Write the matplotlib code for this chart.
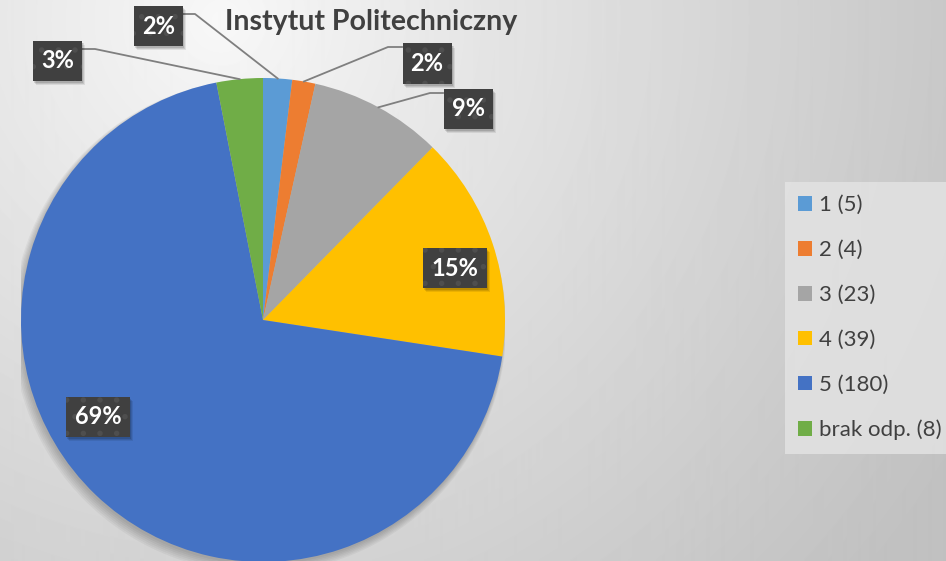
import numpy as np
import matplotlib
matplotlib.use("Agg")
import matplotlib.pyplot as plt
from matplotlib.patches import Circle, Rectangle

plt.rcParams['font.family'] = ['Lato', 'DejaVu Sans']
plt.rcParams['hatch.linewidth'] = 1.5

# Data
categories = ['1', '2', '3', '4', '5', 'brak odp.']
counts = [5, 4, 23, 39, 180, 8]
colors = ['#5B9BD5', '#ED7D31', '#A5A5A5', '#FFC000', '#4472C4', '#70AD47']
title = 'Instytut Politechniczny'

# Figure size in pixels
W, H = 946, 561
fig = plt.figure(figsize=(W / 100, H / 100), dpi=100)

# Radial gradient background
bg = fig.add_axes([0, 0, 1, 1], zorder=0)
yy, xx = np.mgrid[0:H, 0:W]
d = np.hypot(xx - 220, yy - 20)
v = 248 - 55 * np.clip(d / 850, 0, 1) ** 0.9
bg.imshow(v, cmap='gray', vmin=0, vmax=255, aspect='auto',
          extent=(0, W, H, 0), interpolation='bilinear')
bg.set_axis_off()

# Pie: center (263,320) px, radius 242 px
cx, cy, R = 263, 320, 242
ax = fig.add_axes([(cx - R) / W, (H - cy - R) / H, 2 * R / W, 2 * R / H], zorder=1)
ax.set_facecolor('none')


def px(x, y):
    """pixel (top-left origin) -> pie data coords"""
    return (x - cx) / R, (cy - y) / R


# soft shadow under pie
for k in range(6):
    ax.add_patch(Circle((-0.005 - 0.002 * k, -0.01 - 0.003 * k), 1 + 0.004 * k,
                        color='black', alpha=0.04, lw=0, zorder=0))

wedges, _ = ax.pie(counts, colors=colors, startangle=90, counterclock=False,
                   radius=1, wedgeprops=dict(linewidth=0))
ax.set_xlim(-1, 1)
ax.set_ylim(-1, 1)
ax.set_axis_off()

total = sum(counts)
pct = [f'{round(100 * c / total)}%' for c in counts]

# label box centers (px) and leader-line elbows / box ends (px)
label_pos = [(158.5, 26), (427, 63.5), (468.5, 108.5), (454.5, 268), (98, 416.5), (57.5, 60.5)]
elbow = [(195, 14), (388, 47), (430, 93), None, None, (95, 49)]
box_end = [(183, 14), (402, 47), (443, 93), None, None, (82, 49)]
box_h = 40

for i, w in enumerate(wedges):
    ang = np.deg2rad((w.theta1 + w.theta2) / 2)
    if elbow[i] is not None:
        ex, ey = px(*elbow[i])
        bx, by = px(*box_end[i])
        ax.plot([np.cos(ang), ex, bx], [np.sin(ang), ey, by],
                color='#7f7f7f', lw=1.3, clip_on=False, zorder=3)
    bw = 49 if len(pct[i]) == 2 else 64
    lx, ly = label_pos[i]
    x0, y0 = px(lx - bw / 2, ly + box_h / 2)
    # soft shadow
    for k, a in enumerate([0.12, 0.1, 0.08]):
        sx, sy = px(lx - bw / 2 + 1 + k, ly + box_h / 2 + 2 + k)
        ax.add_patch(Rectangle((sx, sy), bw / R, box_h / R, fc='black',
                               ec='none', alpha=a, zorder=3, clip_on=False))
    ax.add_patch(Rectangle((x0, y0), bw / R, box_h / R, fc='#404040',
                           ec='#4e4e4e', lw=0, hatch='.', zorder=4, clip_on=False))
    tx, ty = px(lx, ly)
    ax.text(tx, ty, pct[i], ha='center', va='center', fontsize=17,
            fontweight='bold', color='white', zorder=5)

fig.text(371 / W, 1 - 22 / H, title, ha='center', va='center',
         fontsize=20.5, fontweight='bold', color='#404040')

labels = [f'{c} ({n})' for c, n in zip(categories, counts)]
leg = fig.legend(wedges, labels, loc='upper left',
                 bbox_to_anchor=(785 / W, 1 - 182 / H), borderaxespad=0,
                 frameon=True, fancybox=False, fontsize=16,
                 handlelength=0.63, handleheight=0.63, handletextpad=0.3,
                 labelspacing=1.12, borderpad=0.6)
leg.get_frame().set_facecolor('#e4e4e4')
leg.get_frame().set_alpha(0.8)
leg.get_frame().set_edgecolor('none')
leg.set_zorder(5)
for t in leg.get_texts():
    t.set_color('#404040')

fig.savefig('out.png', dpi=100)
